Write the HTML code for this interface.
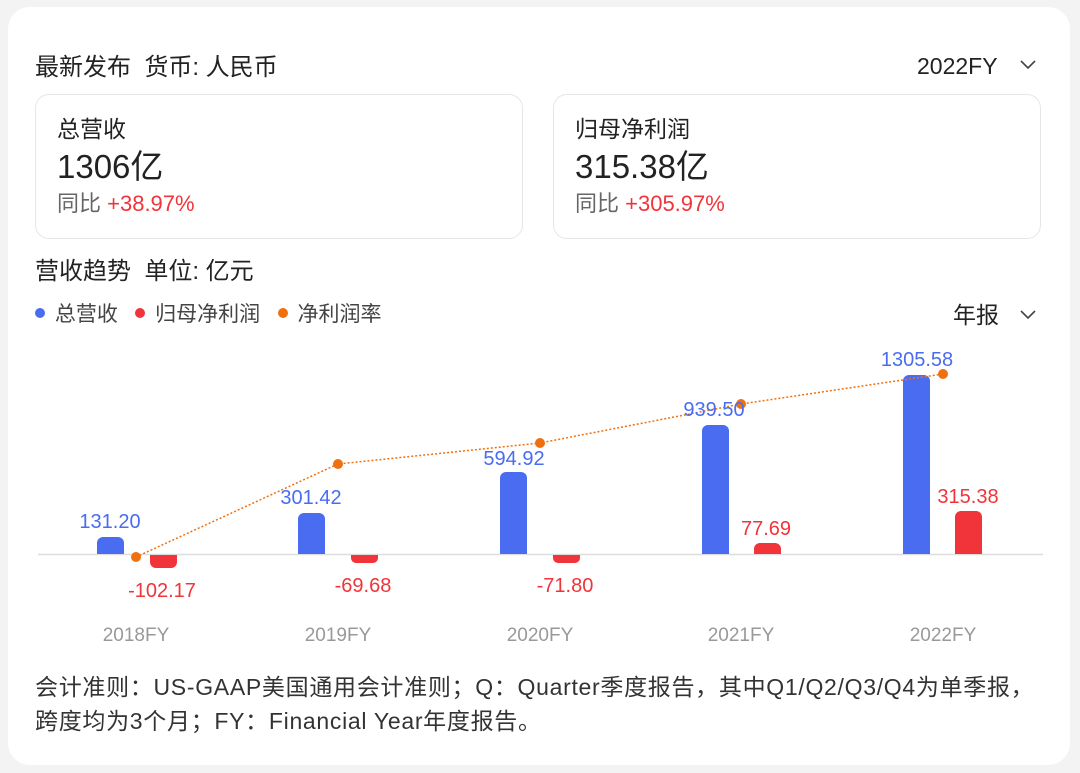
<!DOCTYPE html>
<html><head><meta charset="utf-8"><style>
body{margin:0;width:1080px;height:773px;background:#f3f3f3;font-family:"Liberation Sans","Noto Sans CJK SC",sans-serif;position:relative;overflow:hidden}
.card{position:absolute;left:8px;top:7px;width:1062px;height:758px;background:#fff;border-radius:22px}
.t{position:absolute;white-space:nowrap;color:#222;line-height:1.2}
.box{position:absolute;top:94px;width:486px;height:143px;border:1px solid #e6e6e6;border-radius:14px;background:#fff}
.d{display:inline-block;width:10px;height:10px;border-radius:50%;vertical-align:middle;position:relative;top:-2px;margin-right:4px}
</style></head><body>
<div class="card"></div>
<div class="t" style="left:35px;top:54px;font-size:24px">最新发布&nbsp; 货币: 人民币</div>
<div class="t" style="left:917px;top:53px;font-size:23px">2022FY</div>
<svg style="position:absolute;left:1019px;top:58px" width="18" height="12"><polyline points="2,3 9,10 16,3" fill="none" stroke="#444" stroke-width="1.6"/></svg>
<div class="box" style="left:35px"></div>
<div class="box" style="left:553px"></div>
<div class="t" style="left:57px;top:116px;font-size:23px">总营收</div>
<div class="t" style="left:57px;top:147px;font-size:33px">1306亿</div>
<div class="t" style="left:57px;top:191px;font-size:22px;color:#666">同比 <span style="color:#f0343a">+38.97%</span></div>
<div class="t" style="left:575px;top:116px;font-size:23px">归母净利润</div>
<div class="t" style="left:575px;top:147px;font-size:33px">315.38亿</div>
<div class="t" style="left:575px;top:191px;font-size:22px;color:#666">同比 <span style="color:#f0343a">+305.97%</span></div>
<div class="t" style="left:35px;top:258px;font-size:24px">营收趋势&nbsp; 单位: 亿元</div>
<div class="t" style="left:953px;top:302px;font-size:23px">年报</div>
<svg style="position:absolute;left:1019px;top:308px" width="18" height="12"><polyline points="2,3 9,10 16,3" fill="none" stroke="#444" stroke-width="1.6"/></svg>
<div class="t" style="left:35px;top:302px;font-size:21px;color:#444">
<span class="d" style="background:#4a6cf0"></span> 总营收&nbsp;&nbsp;&nbsp;<span class="d" style="background:#f0343a"></span> 归母净利润&nbsp;&nbsp;&nbsp;<span class="d" style="background:#f07010"></span> 净利润率</div>
<svg style="position:absolute;left:0;top:0" width="1080" height="773" font-family="Liberation Sans, sans-serif">
<line x1="38" y1="554.5" x2="1043" y2="554.5" stroke="#ddd" stroke-width="1.5"/>
<g fill="#4a6cf0">
<path d="M97,554V543a6,6 0 0 1 6,-6h15a6,6 0 0 1 6,6V554Z"/>
<path d="M298,554V519a6,6 0 0 1 6,-6h15a6,6 0 0 1 6,6V554Z"/>
<path d="M500,554V478a6,6 0 0 1 6,-6h15a6,6 0 0 1 6,6V554Z"/>
<path d="M702,554V431a6,6 0 0 1 6,-6h15a6,6 0 0 1 6,6V554Z"/>
<path d="M903,554V381a6,6 0 0 1 6,-6h15a6,6 0 0 1 6,6V554Z"/>
</g>
<g fill="#f0343a">
<path d="M150,555V562a6,6 0 0 0 6,6h15a6,6 0 0 0 6,-6V555Z"/>
<path d="M351,555V558a5,5 0 0 0 5,5h17a5,5 0 0 0 5,-5V555Z"/>
<path d="M553,555V558a5,5 0 0 0 5,5h17a5,5 0 0 0 5,-5V555Z"/>
<path d="M754,554V549a6,6 0 0 1 6,-6h15a6,6 0 0 1 6,6V554Z"/>
<path d="M955,554V517a6,6 0 0 1 6,-6h15a6,6 0 0 1 6,6V554Z"/>
</g>
<polyline points="136,557 338,464 540,443 741,404 943,374" fill="none" stroke="#f07010" stroke-width="1.5" stroke-dasharray="2,2"/>
<g fill="#f07010"><circle cx="136" cy="557" r="5"/><circle cx="338" cy="464" r="5"/><circle cx="540" cy="443" r="5"/><circle cx="741" cy="404" r="5"/><circle cx="943" cy="374" r="5"/></g>
<g fill="#4a6cf0" font-size="20" text-anchor="middle">
<text x="110" y="528">131.20</text><text x="311" y="504">301.42</text><text x="514" y="465">594.92</text><text x="714" y="416">939.50</text><text x="917" y="366">1305.58</text></g>
<g fill="#f0343a" font-size="20" text-anchor="middle">
<text x="162" y="597">-102.17</text><text x="363" y="592">-69.68</text><text x="565" y="592">-71.80</text><text x="766" y="535">77.69</text><text x="968" y="503">315.38</text></g>
<g fill="#999" font-size="19" text-anchor="middle">
<text x="136" y="641">2018FY</text><text x="338" y="641">2019FY</text><text x="540" y="641">2020FY</text><text x="741" y="641">2021FY</text><text x="943" y="641">2022FY</text></g>
</svg>
<div class="t" style="left:35px;top:674px;font-size:23px;color:#333;letter-spacing:0.7px">会计准则：US-GAAP美国通用会计准则；Q：Quarter季度报告，其中Q1/Q2/Q3/Q4为单季报，</div>
<div class="t" style="left:35px;top:708px;font-size:23px;color:#333;letter-spacing:0.7px">跨度均为3个月；FY：Financial Year年度报告。</div>
</body></html>
